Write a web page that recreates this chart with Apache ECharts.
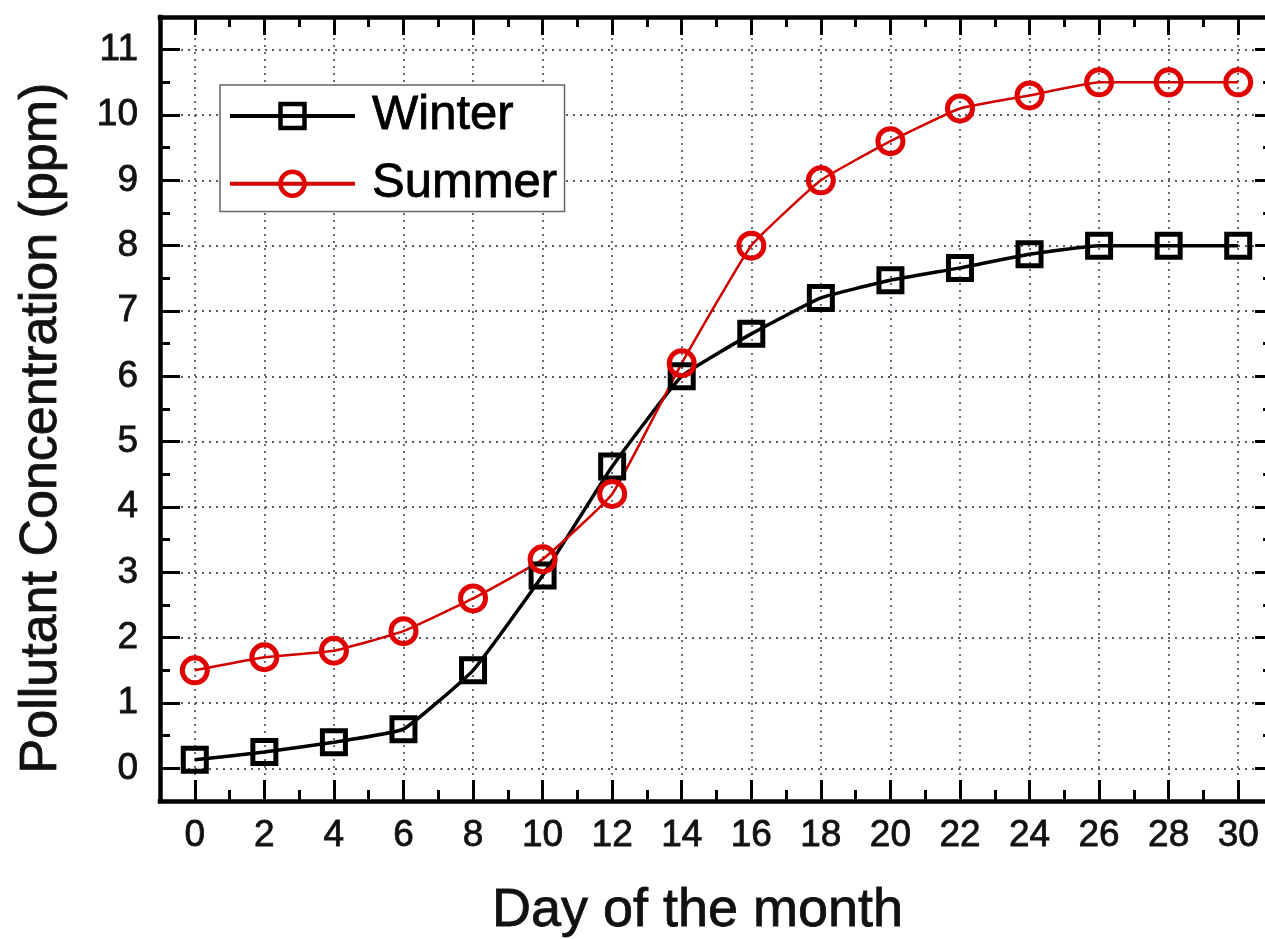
<!DOCTYPE html>
<html><head><meta charset="utf-8">
<script src="https://cdn.jsdelivr.net/npm/echarts@6/dist/echarts.min.js"></script>
<style>html,body{margin:0;padding:0;background:#fff}#c{width:1265px;height:939px}</style>
</head><body><div id="c"></div>
<script>
// ---- data ----
const days = [0, 2, 4, 6, 8, 10, 12, 14, 16, 18, 20, 22, 24, 26, 28, 30];
const winter = [0.13, 0.25, 0.4, 0.6, 1.5, 2.95, 4.62, 6.0, 6.65, 7.2, 7.47, 7.66, 7.87, 8.0, 8.0, 8.0];
const summer = [1.5, 1.7, 1.8, 2.1, 2.6, 3.2, 4.2, 6.2, 8.0, 9.0, 9.6, 10.1, 10.3, 10.5, 10.5, 10.5];
const xMajorTicks = [0, 2, 4, 6, 8, 10, 12, 14, 16, 18, 20, 22, 24, 26, 28, 30];
const xMinorTicks = [1, 3, 5, 7, 9, 11, 13, 15, 17, 19, 21, 23, 25, 27, 29];
const yMajorTicks = [0, 1, 2, 3, 4, 5, 6, 7, 8, 9, 10, 11];
const yMinorTicks = [0.5, 1.5, 2.5, 3.5, 4.5, 5.5, 6.5, 7.5, 8.5, 9.5, 10.5];
const seriesNames = ['Winter', 'Summer'];
const xTitle = 'Day of the month';
const yTitle = 'Pollutant Concentration (ppm)';

const FONT = '"Liberation Sans", Arial, sans-serif';
const X_MIN = -1, X_MAX = 31, Y_MIN = -0.5, Y_MAX = 11.5;

function axis(dim, pos, opts) {
  const isX = dim === 'x';
  const a = {
    type: 'value', gridIndex: 0, position: pos,
    min: isX ? X_MIN : Y_MIN, max: isX ? X_MAX : Y_MAX,
    axisLine: { show: !!opts.line, onZero: false, lineStyle: { color: '#000', width: 4.5, cap: 'square' } },
    axisTick: { show: true, inside: true, customValues: opts.ticks, length: opts.len, lineStyle: { color: '#000', width: 3 } },
    axisLabel: { show: false },
    splitLine: { show: false },
    minorTick: { show: false }
  };
  if (opts.labels) {
    a.axisLabel = {
      show: true, customValues: opts.ticks, color: '#111', fontFamily: FONT, fontSize: 37,
      textBorderColor: '#111', textBorderWidth: 0.8,
      margin: isX ? 16 : 22
    };
  }
  if (opts.split) {
    a.splitLine = { show: true, lineStyle: { color: '#5a5a6a', width: 1.8, type: [2, 5] } };
  }
  if (opts.name) {
    a.name = opts.name;
    a.nameLocation = 'middle';
    a.nameGap = isX ? 83 : 92;
    a.nameTextStyle = { color: '#111', fontFamily: FONT, fontSize: isX ? 54 : 52,
      textBorderColor: '#111', textBorderWidth: 0.8, padding: [0, 38, 0, 0] };
  }
  return a;
}

const chart = echarts.init(document.getElementById('c'), null, { renderer: 'canvas' });
chart.setOption({
  backgroundColor: '#fff',
  animation: false,
  grid: { left: 160, top: 17, right: -8, bottom: 138, containLabel: false, outerBoundsMode: 'none' },
  xAxis: [
    axis('x', 'bottom', { line: true, ticks: xMajorTicks, len: 21, labels: true, split: true, name: xTitle }),
    axis('x', 'top', { line: true, ticks: xMajorTicks, len: 18 }),
    axis('x', 'bottom', { ticks: xMinorTicks, len: 11 }),
    axis('x', 'top', { ticks: xMinorTicks, len: 10 })
  ],
  yAxis: [
    axis('y', 'left', { line: true, ticks: yMajorTicks, len: 20, labels: true, split: true, name: yTitle }),
    axis('y', 'right', { line: true, ticks: yMajorTicks, len: 18 }),
    axis('y', 'left', { ticks: yMinorTicks, len: 10 }),
    axis('y', 'right', { ticks: yMinorTicks, len: 10 })
  ],
  legend: {
    left: 220, top: 85, orient: 'vertical',
    data: seriesNames,
    itemWidth: 125, itemHeight: 30, itemGap: 18,
    padding: [6, 7, 3, 8],
    backgroundColor: '#fff', borderColor: '#666', borderWidth: 1.5,
    lineStyle: { width: 4 },
    itemStyle: { borderWidth: 4.5 },
    textStyle: { color: '#000', fontFamily: FONT, fontSize: 49, lineHeight: 49, padding: [0, 0, 0, 12],
      textBorderColor: '#000', textBorderWidth: 0.8 }
  },
  series: [
    {
      name: seriesNames[0], type: 'line', xAxisIndex: 0, yAxisIndex: 0,
      data: days.map((d, i) => [d, winter[i]]),
      smooth: 0.12,
      symbol: 'rect', symbolSize: 23,
      lineStyle: { color: '#000', width: 3.5 },
      itemStyle: { color: 'rgba(255,255,255,0)', borderColor: '#000', borderWidth: 5 },
      emphasis: { disabled: true }
    },
    {
      name: seriesNames[1], type: 'line', xAxisIndex: 0, yAxisIndex: 0,
      data: days.map((d, i) => [d, summer[i]]),
      smooth: 0.12,
      symbol: 'circle', symbolSize: 25,
      lineStyle: { color: '#d00000', width: 2.5 },
      itemStyle: { color: 'rgba(255,255,255,0)', borderColor: '#e00000', borderWidth: 5 },
      emphasis: { disabled: true }
    }
  ]
});
</script>
</body></html>
